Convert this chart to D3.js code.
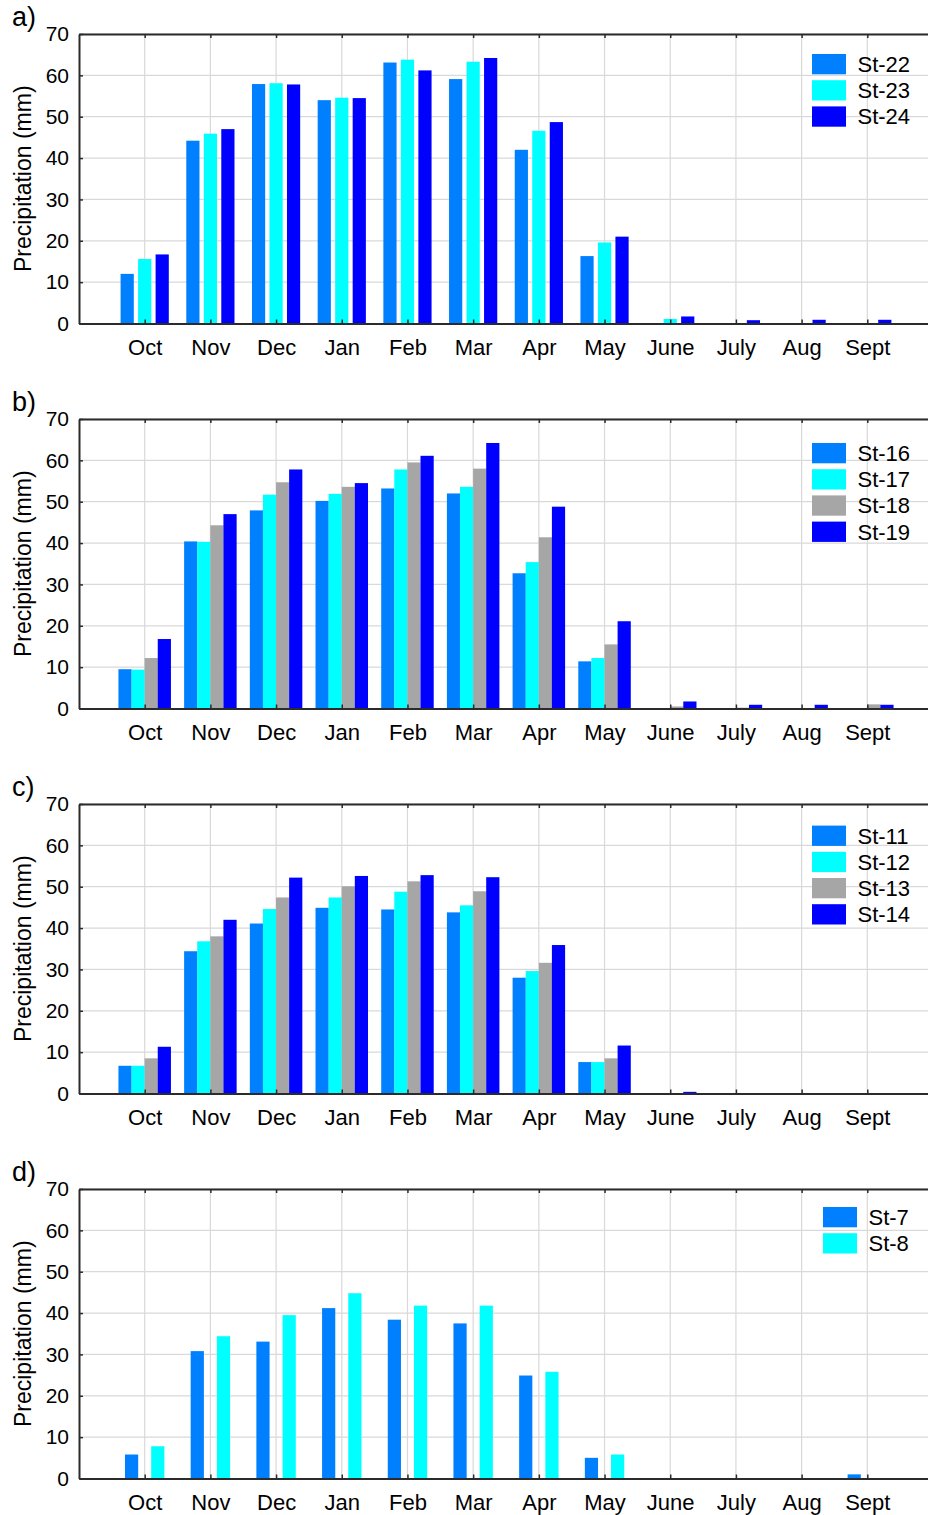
<!DOCTYPE html>
<html>
<head>
<meta charset="utf-8">
<script src="https://cdn.jsdelivr.net/npm/d3@7"></script>
<style>
body { margin: 0; background: #fff; }
text { font-family: Arial, "Liberation Sans", sans-serif; fill: #000; }
</style>
</head>
<body>
<div id="chart"></div>
<script>
// months along the x axis and the y tick values
const months = ["Oct", "Nov", "Dec", "Jan", "Feb", "Mar", "Apr", "May", "June", "July", "Aug", "Sept"];
const yTicks = [0, 10, 20, 30, 40, 50, 60, 70];

// panel a
const stationsA = ["St-22", "St-23", "St-24"];
const st22 = [12.0, 44.2, 57.9, 54.0, 63.1, 59.1, 42.0, 16.3, 0, 0, 0, 0];
const st23 = [15.6, 45.9, 58.1, 54.6, 63.8, 63.3, 46.6, 19.6, 1.1, 0, 0, 0];
const st24 = [16.7, 47.0, 57.8, 54.5, 61.2, 64.2, 48.7, 21.0, 1.7, 0.8, 0.9, 0.9];

// panel b
const stationsB = ["St-16", "St-17", "St-18", "St-19"];
const st16 = [9.5, 40.4, 47.9, 50.2, 53.2, 52.0, 32.7, 11.4, 0, 0, 0, 0];
const st17 = [9.4, 40.3, 51.7, 51.9, 57.8, 53.6, 35.4, 12.2, 0, 0, 0, 0];
const st18 = [12.2, 44.3, 54.7, 53.6, 59.5, 58.0, 41.4, 15.5, 0.5, 0.2, 0, 1.0];
const st19 = [16.8, 47.0, 57.8, 54.5, 61.1, 64.2, 48.8, 21.1, 1.7, 0.9, 0.9, 0.9];

// panel c
const stationsC = ["St-11", "St-12", "St-13", "St-14"];
const st11 = [6.7, 34.4, 41.1, 44.9, 44.5, 43.8, 28.0, 7.6, 0, 0, 0, 0];
const st12 = [6.7, 36.8, 44.6, 47.4, 48.8, 45.5, 29.6, 7.6, 0, 0, 0, 0];
const st13 = [8.5, 38.0, 47.4, 50.1, 51.3, 48.9, 31.6, 8.5, 0, 0, 0, 0];
const st14 = [11.3, 42.0, 52.2, 52.6, 52.8, 52.3, 35.9, 11.6, 0.4, 0, 0, 0];

// panel d
const stationsD = ["St-7", "St-8"];
const st7 = [5.8, 30.8, 33.1, 41.2, 38.4, 37.5, 24.9, 5.0, 0, 0, 0, 1.0];
const st8 = [7.8, 34.4, 39.5, 44.8, 41.8, 41.8, 25.8, 5.8, 0, 0, 0, 0];

const blue1 = "#0080ff", cyan = "#00ffff", grey = "#a6a6a6", blue2 = "#0000ff";

const panels = [
  { tag: "a)", names: stationsA, values: [st22, st23, st24], colors: [blue1, cyan, blue2], step: 17.5, legendTop: 20, legendX: 812 },
  { tag: "b)", names: stationsB, values: [st16, st17, st18, st19], colors: [blue1, cyan, grey, blue2], step: 13.1, legendTop: 24, legendX: 812 },
  { tag: "c)", names: stationsC, values: [st11, st12, st13, st14], colors: [blue1, cyan, grey, blue2], step: 13.1, legendTop: 21.6, legendX: 812 },
  { tag: "d)", names: stationsD, values: [st7, st8], colors: [blue1, cyan], step: 26.2, legendTop: 18, legendX: 823 }
];

const width = 928, height = 1515;
const plotH = 289.5, barW = 13.2;

const svg = d3.select("#chart").append("svg")
  .attr("width", width)
  .attr("height", height);

const x = d3.scaleLinear().domain([0, 13]).range([79, 933]);
const y = d3.scaleLinear().domain([0, 70]).range([plotH, 0]);
const monthIdx = d3.range(1, 13);

panels.forEach(function(p, i) {
  const top = 34 + i * 385;
  const g = svg.append("g").attr("transform", "translate(0," + top + ")");

  // grid lines
  g.append("g").selectAll("line")
    .data(yTicks.slice(1))
    .join("line")
    .attr("x1", x(0)).attr("x2", x(13))
    .attr("y1", d => y(d)).attr("y2", d => y(d))
    .attr("stroke", "#d9d9d9").attr("stroke-width", 1.2);

  g.append("g").selectAll("line")
    .data(monthIdx)
    .join("line")
    .attr("x1", d => x(d)).attr("x2", d => x(d))
    .attr("y1", 0).attr("y2", plotH)
    .attr("stroke", "#d9d9d9").attr("stroke-width", 1.2);

  // bars
  const n = p.values.length;
  p.values.forEach(function(vals, k) {
    g.append("g").selectAll("rect")
      .data(vals)
      .join("rect")
      .attr("x", (d, j) => x(j + 1) + (k - (n - 1) / 2) * p.step - barW / 2)
      .attr("y", d => y(d))
      .attr("width", barW)
      .attr("height", d => plotH - y(d))
      .attr("fill", p.colors[k]);
  });

  // axes with inner ticks
  const left = g.append("g")
    .attr("transform", "translate(" + x(0) + ",0)")
    .call(d3.axisLeft(y).tickValues(yTicks).tickSize(-4).tickSizeOuter(0).tickPadding(10));
  left.selectAll("text").attr("font-size", 21).attr("font-family", "Arial, 'Liberation Sans', sans-serif").attr("fill", "#000");

  const bottom = g.append("g")
    .attr("transform", "translate(0," + plotH + ")")
    .call(d3.axisBottom(x).tickValues(monthIdx).tickFormat(d => months[d - 1]).tickSize(-4).tickSizeOuter(0).tickPadding(16));
  bottom.selectAll("text").attr("font-size", 22).attr("font-family", "Arial, 'Liberation Sans', sans-serif").attr("fill", "#000");

  const topAxis = g.append("g")
    .call(d3.axisTop(x).tickValues(monthIdx).tickFormat("").tickSize(-4).tickSizeOuter(0));

  [left, bottom, topAxis].forEach(function(a) {
    a.select(".domain").attr("stroke", "#2b2b2b").attr("stroke-width", 2);
    a.selectAll(".tick line").attr("stroke", "#2b2b2b").attr("stroke-width", 1.5);
  });

  // y label
  g.append("text")
    .attr("transform", "translate(23," + (plotH / 2) + ") rotate(-90)")
    .attr("text-anchor", "middle")
    .attr("dominant-baseline", "central")
    .attr("font-size", 23)
    .text("Precipitation (mm)");

  // panel letter
  g.append("text")
    .attr("x", 12)
    .attr("y", -8)
    .attr("font-size", 27)
    .text(p.tag);

  // legend
  const legend = g.selectAll(".legend")
    .data(p.names)
    .join("g")
    .attr("class", "legend")
    .attr("transform", (d, k) => "translate(" + p.legendX + "," + (p.legendTop + k * 26.2) + ")");

  legend.append("rect")
    .attr("width", 34)
    .attr("height", 20.3)
    .attr("fill", (d, k) => p.colors[k]);

  legend.append("text")
    .attr("x", 45.5)
    .attr("y", 10.5)
    .attr("dominant-baseline", "central")
    .attr("font-size", 22)
    .text(d => d);
});
</script>
</body>
</html>
